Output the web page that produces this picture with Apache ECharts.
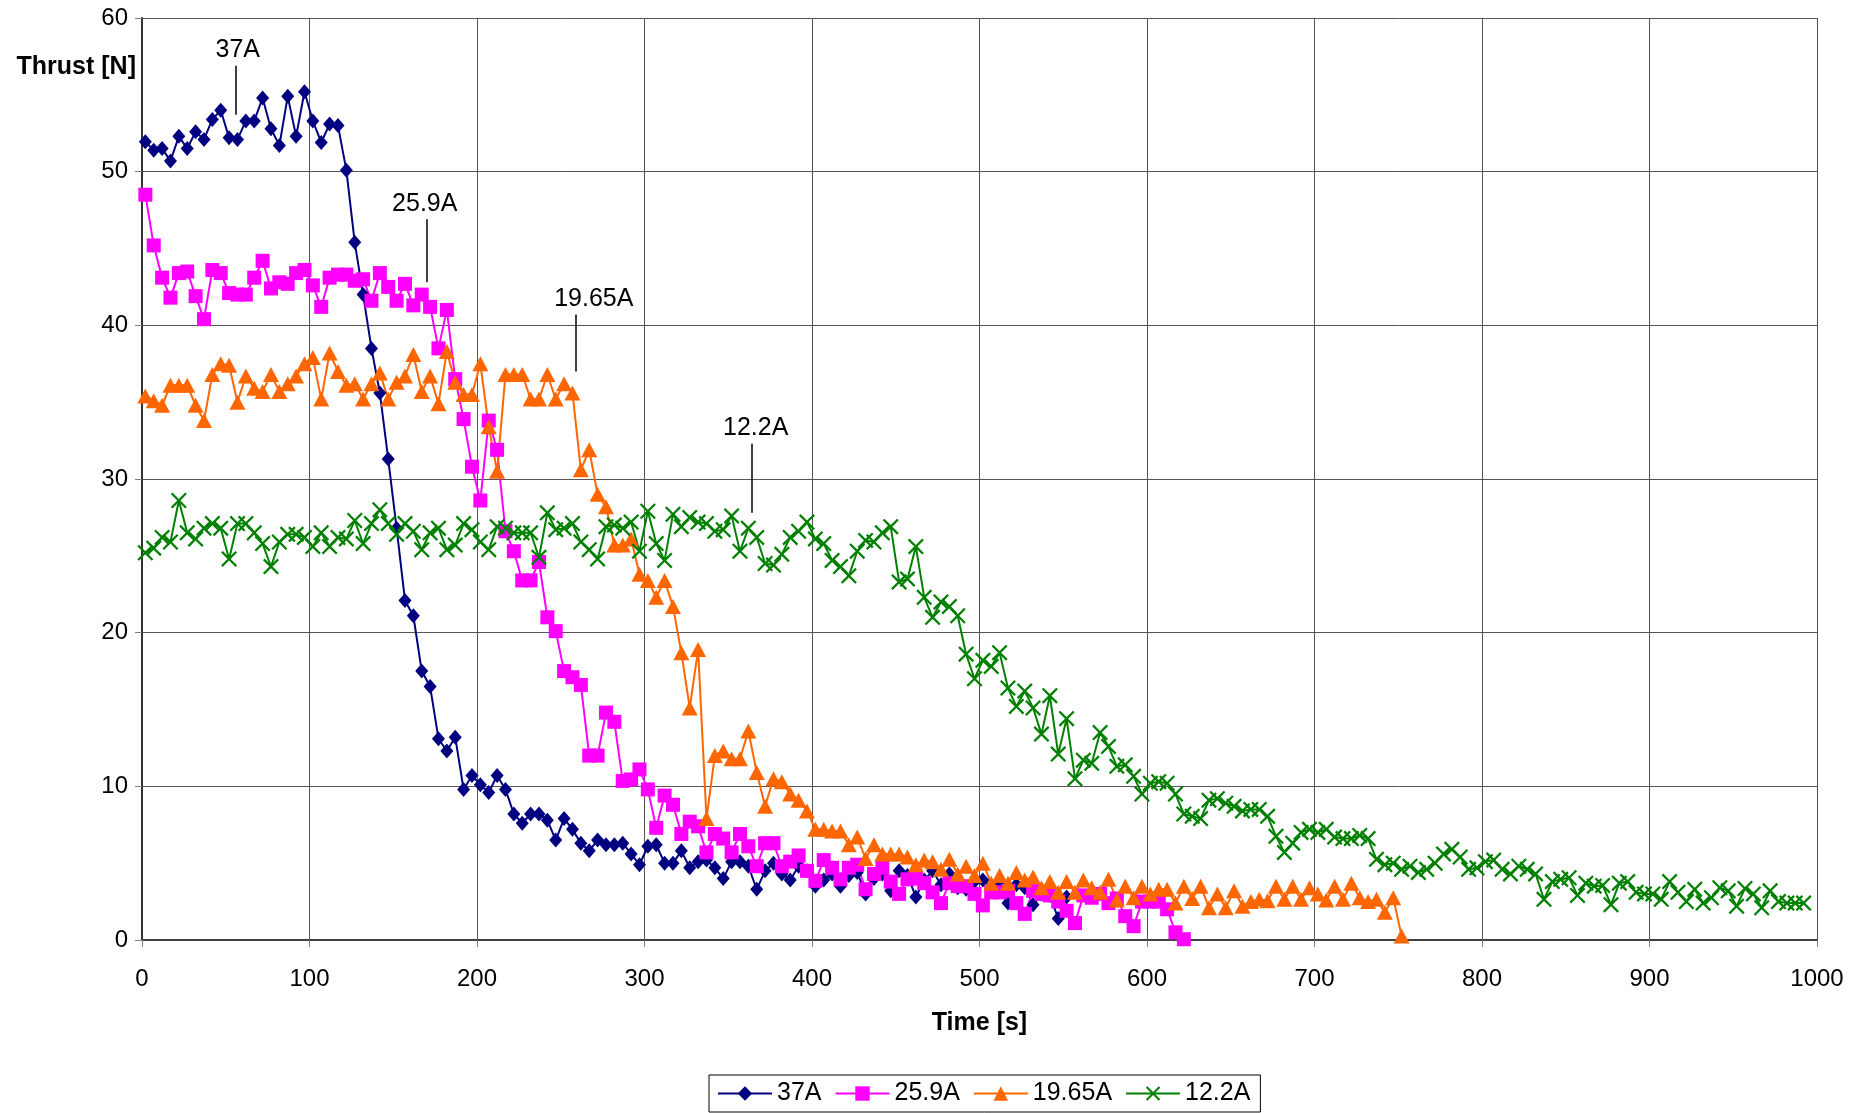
<!DOCTYPE html>
<html>
<head>
<meta charset="utf-8">
<script src="https://cdn.jsdelivr.net/npm/echarts@6/dist/echarts.min.js"></script>
<style>
  html, body { margin: 0; padding: 0; background: #fff; }
  #chart { width: 1858px; height: 1113px; }
</style>
</head>
<body>
<div id="chart"></div>
<script>
// Thrust readings, one every 5 s starting at t = 2 s
const T0 = 2;
const STEP = 5;

const seriesNames = ['37A', '25.9A', '19.65A', '12.2A'];

const thrust37A = [
  51.95, 51.4, 51.5, 50.7, 52.3, 51.5, 52.6, 52.1, 53.4, 54.0,
  52.2, 52.1, 53.3, 53.3, 54.8, 52.8, 51.7, 54.9, 52.3, 55.2,
  53.3, 51.9, 53.1, 53.0, 50.1, 45.4, 42.0, 38.5, 35.6, 31.3,
  26.8, 22.1, 21.1, 17.5, 16.5, 13.1, 12.3, 13.2, 9.8, 10.7,
  10.1, 9.6, 10.7, 9.8, 8.2, 7.6, 8.2, 8.2, 7.8, 6.5,
  7.9, 7.2, 6.3, 5.8, 6.5, 6.2, 6.2, 6.3, 5.6, 4.9,
  6.1, 6.2, 5.0, 5.0, 5.8, 4.7, 5.1, 5.2, 4.7, 4.0,
  5.1, 5.1, 4.8, 3.3, 4.5, 5.0, 4.3, 3.9, 4.8, 4.5,
  3.5, 3.9, 4.3, 3.5, 4.2, 4.4, 3.0, 4.0, 4.3, 3.2,
  4.5, 4.2, 2.8, 3.9, 4.5, 3.6, 4.3, 3.4, 3.3, 3.8,
  3.9, 3.5, 3.6, 2.4, 3.6, 3.4, 2.3, 3.0, 2.9, 1.4,
  2.8
];

const thrust25_9A = [
  48.5, 45.2, 43.1, 41.8, 43.4, 43.5, 41.9, 40.4, 43.6, 43.4,
  42.1, 42.0, 42.0, 43.1, 44.2, 42.4, 42.8, 42.7, 43.4, 43.6,
  42.6, 41.2, 43.1, 43.3, 43.3, 42.9, 43.0, 41.6, 43.4, 42.5,
  41.6, 42.7, 41.3, 42.0, 41.2, 38.5, 41.0, 36.5, 33.9, 30.8,
  28.6, 33.8, 31.9, 26.6, 25.3, 23.4, 23.4, 24.6, 21.0, 20.1,
  17.5, 17.1, 16.6, 12.0, 12.0, 14.8, 14.2, 10.35, 10.45, 11.1,
  9.8, 7.3, 9.4, 8.8, 6.9, 7.7, 7.4, 5.7, 6.9, 6.6,
  5.7, 6.9, 6.1, 4.8, 6.3, 6.3, 4.8, 5.1, 5.5, 4.5,
  3.85, 5.2, 4.7, 3.95, 4.7, 4.9, 3.3, 4.3, 4.7, 3.8,
  3.0, 3.95, 4.0, 3.7, 3.1, 2.4, 3.7, 3.5, 3.5, 3.0,
  2.25, 3.1, 3.1, 3.2, 2.4, 1.7, 3.2, 3.0, 2.9, 2.5,
  1.9, 1.1, 2.9, 2.75, 3.0, 2.4, 2.7, 1.55, 0.9, 2.5,
  2.5, 2.5, 2.0, 0.5, 0.05
];

const thrust19_65A = [
  35.4, 35.1, 34.8, 36.1, 36.1, 36.1, 34.8, 33.8, 36.8, 37.5,
  37.4, 35.0, 36.7, 35.9, 35.7, 36.8, 35.7, 36.2, 36.7, 37.5,
  37.9, 35.2, 38.2, 37.0, 36.1, 36.2, 35.2, 36.2, 36.9, 35.2,
  36.3, 36.7, 38.1, 35.7, 36.7, 34.9, 38.3, 36.3, 35.5, 35.5,
  37.5, 33.4, 30.5, 36.8, 36.8, 36.8, 35.2, 35.2, 36.8, 35.2,
  36.2, 35.6, 30.6, 31.9, 29.0, 28.2, 25.7, 25.7, 26.1, 23.8,
  23.4, 22.3, 23.4, 21.7, 18.7, 15.1, 18.9, 7.9, 12.0, 12.3,
  11.8, 11.8, 13.6, 10.9, 8.7, 10.5, 10.3, 9.5, 9.1, 8.4,
  7.2, 7.2, 7.1, 7.1, 6.2, 6.7, 5.3, 6.2, 5.6, 5.6,
  5.6, 5.4, 4.9, 5.2, 5.1, 4.6, 5.25, 4.3, 4.8, 4.2,
  5.0, 3.7, 4.2, 3.7, 4.4, 3.9, 4.1, 3.4, 3.8, 3.1,
  3.8, 3.1, 3.9, 3.4, 3.1, 3.95, 2.6, 3.5, 2.75, 3.5,
  3.0, 3.3, 3.3, 2.4, 3.5, 2.7, 3.5, 2.1, 3.0, 2.1,
  3.2, 2.2, 2.5, 2.65, 2.55, 3.5, 2.65, 3.5, 2.65, 3.4,
  3.0, 2.6, 3.5, 2.65, 3.7, 2.75, 2.5, 2.65, 1.8, 2.75,
  0.26
];

const thrust12_2A = [
  25.2, 25.5, 26.2, 25.9, 28.6, 26.5, 26.1, 26.8, 27.1, 26.8,
  24.8, 27.1, 27.1, 26.5, 25.8, 24.3, 25.9, 26.4, 26.4, 26.2,
  25.6, 26.5, 25.6, 26.2, 26.1, 27.3, 25.8, 27.1, 28.0, 27.1,
  26.4, 27.1, 26.6, 25.4, 26.5, 26.8, 25.4, 25.7, 27.1, 26.7,
  25.9, 25.4, 26.9, 26.8, 26.5, 26.5, 26.5, 24.9, 27.8, 26.7,
  26.8, 27.1, 25.9, 25.4, 24.8, 26.9, 27.0, 26.8, 27.2, 25.3,
  27.9, 25.8, 24.7, 27.7, 26.9, 27.5, 27.2, 27.1, 26.6, 26.7,
  27.6, 25.3, 26.8, 26.2, 24.5, 24.4, 25.1, 26.2, 26.6, 27.2,
  26.1, 25.8, 24.7, 24.3, 23.7, 25.3, 26.0, 25.9, 26.5, 26.9,
  23.3, 23.5, 25.6, 22.3, 21.0, 22.0, 21.7, 21.1, 18.6, 17.0,
  18.2, 17.8, 18.7, 16.4, 15.2, 16.2, 15.1, 13.4, 15.9, 12.1,
  14.4, 10.5, 11.7, 11.5, 13.5, 12.6, 11.3, 11.4, 10.65, 9.5,
  10.2, 10.3, 10.2, 9.5, 8.2, 8.05, 7.9, 9.1, 9.2, 8.9,
  8.7, 8.4, 8.5, 8.5, 8.05, 6.75, 5.7, 6.3, 7.0, 7.2,
  7.0, 7.2, 6.7, 6.6, 6.6, 6.8, 6.6, 5.25, 4.9, 5.0,
  4.6, 4.8, 4.4, 4.6, 5.0, 5.6, 5.9, 5.4, 4.6, 4.7,
  5.1, 5.2, 4.6, 4.3, 4.8, 4.6, 4.3, 2.65, 3.8, 3.95,
  4.05, 2.9, 3.7, 3.5, 3.55, 2.3, 3.7, 3.8, 3.1, 3.0,
  3.0, 2.65, 3.8, 3.1, 2.5, 3.3, 2.4, 2.75, 3.4, 3.2,
  2.2, 3.35, 3.0, 2.1, 3.2, 2.5, 2.4, 2.4, 2.4
];

// Axis ranges and tick spacing
const timeTicks = { min: 0, max: 1000, interval: 100 };
const thrustTicks = { min: 0, max: 60, interval: 10 };

// Callout leaders naming each curve: [time, lower thrust, upper thrust, label shift]
const callouts = {
  '37A':    [56, 53.7, 56.9, 2],
  '25.9A':  [170, 42.8, 46.9, -2],
  '19.65A': [259, 37.0, 40.7, 18],
  '12.2A':  [364, 27.8, 32.3, 4]
};

const FONT = '"Liberation Sans", Arial, Helvetica, sans-serif';
const CROSS = 'path://M0,10L10,0L50,40L90,0L100,10L60,50L100,90L90,100L50,60L10,100L0,90L40,50Z';

function toPoints(values) {
  return values.map((v, i) => [T0 + STEP * i, v]);
}

function makeSeries(name, values, color, symbol, symbolSize) {
  const c = callouts[name];
  return {
    name: name,
    type: 'line',
    data: toPoints(values),
    symbol: symbol,
    symbolSize: symbolSize,
    showAllSymbol: true,
    lineStyle: { color: color, width: 2 },
    itemStyle: { color: color, borderWidth: 0 },
    emphasis: { disabled: true },
    animation: false,
    markLine: {
      silent: true,
      symbol: ['none', 'none'],
      animation: false,
      lineStyle: { color: '#000', width: 1.5, type: 'solid' },
      label: {
        show: true,
        position: 'end',
        formatter: name,
        color: '#000',
        fontFamily: FONT,
        fontSize: 25,
        distance: 3,
        offset: [c[3], 0]
      },
      data: [[{ coord: [c[0], c[1]] }, { coord: [c[0], c[2]] }]]
    }
  };
}

const chart = echarts.init(document.getElementById('chart'), null, { renderer: 'canvas' });

chart.setOption({
  backgroundColor: '#fff',
  animation: false,
  textStyle: { fontFamily: FONT },
  grid: { left: 142, right: 41, top: 18, bottom: 173, containLabel: false },
  xAxis: {
    type: 'value',
    min: timeTicks.min,
    max: timeTicks.max,
    interval: timeTicks.interval,
    name: 'Time [s]',
    nameLocation: 'middle',
    nameGap: 71,
    nameTextStyle: { color: '#000', fontSize: 25, fontWeight: 'bold', fontFamily: FONT },
    axisLine: { show: true, onZero: false, lineStyle: { color: '#404040', width: 2 } },
    axisTick: { show: true, inside: false, length: 7, lineStyle: { color: '#808080', width: 1 } },
    axisLabel: { color: '#000', fontSize: 24, margin: 27, fontFamily: FONT, formatter: (v) => String(v) },
    splitLine: { show: true, lineStyle: { color: '#555', width: 1 } }
  },
  yAxis: {
    type: 'value',
    min: thrustTicks.min,
    max: thrustTicks.max,
    interval: thrustTicks.interval,
    name: 'Thrust [N]',
    nameLocation: 'end',
    nameGap: -49,
    nameTextStyle: {
      color: '#000', fontSize: 25, fontWeight: 'bold', fontFamily: FONT,
      align: 'right', verticalAlign: 'middle', padding: [0, 6, 0, 0]
    },
    axisLine: { show: true, onZero: false, lineStyle: { color: '#333', width: 2 } },
    axisTick: { show: true, inside: false, length: 7, lineStyle: { color: '#808080', width: 1 } },
    axisLabel: { color: '#000', fontSize: 24, margin: 14, fontFamily: FONT },
    splitLine: { show: true, lineStyle: { color: '#555', width: 1 } }
  },
  legend: {
    data: seriesNames,
    left: 709,
    top: 1075,
    orient: 'horizontal',
    padding: [6, 10, 6, 8],
    itemGap: 13,
    itemWidth: 54,
    itemHeight: 18,
    borderColor: '#000',
    borderWidth: 1,
    backgroundColor: '#fff',
    textStyle: { color: '#000', fontSize: 25, fontFamily: FONT }
  },
  series: [
    makeSeries('37A', thrust37A, '#000080', 'diamond', [13, 15]),
    makeSeries('25.9A', thrust25_9A, '#FF00FF', 'rect', 14),
    makeSeries('19.65A', thrust19_65A, '#FF6600', 'triangle', [16, 15]),
    makeSeries('12.2A', thrust12_2A, '#008000', CROSS, 16)
  ]
});
</script>
</body>
</html>
